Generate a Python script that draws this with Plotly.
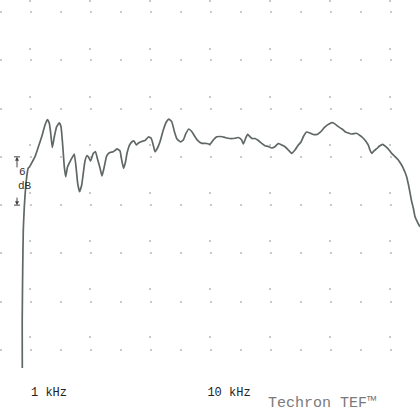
import plotly.graph_objects as go

# Measured magnitude response (linear frequency axis, kHz) and level in dB
freq_khz = [
    0.615, 0.61, 0.635, 0.665, 0.715, 0.835, 0.915, 0.975, 1.085, 1.25,
    1.415, 1.585, 1.75, 1.865, 1.965, 2.035, 2.115, 2.215, 2.335, 2.465,
    2.55, 2.615, 2.665, 2.715, 2.785, 2.875, 3.0, 3.135, 3.215, 3.3,
    3.385, 3.475, 3.585, 3.665, 3.75, 3.85, 3.925, 4.025, 4.165, 4.275,
    4.375, 4.5, 4.6, 4.715, 4.835, 4.965, 5.165, 5.35, 5.5, 5.585,
    5.675, 5.775, 5.85, 5.975, 6.1, 6.2, 6.315, 6.425, 6.585, 6.75,
    6.915, 7.05, 7.15, 7.25, 7.375, 7.5, 7.665, 7.815, 7.935, 8.085,
    8.225, 8.35, 8.525, 8.665, 8.785, 8.935, 9.085, 9.25, 9.415, 9.6,
    9.835, 10.0, 10.165, 10.335, 10.5, 10.625, 10.75, 11.0, 11.25, 11.425,
    11.585, 11.665, 11.785, 11.885, 12.0, 12.1, 12.25, 12.415, 12.585, 12.75,
    12.915, 13.085, 13.25, 13.415, 13.585, 13.75, 13.915, 14.085, 14.25, 14.415,
    14.55, 14.665, 14.825, 15.0, 15.165, 15.35, 15.5, 15.75, 15.95, 16.15,
    16.415, 16.6, 16.75, 17.085, 17.325, 17.5, 17.665, 17.8, 17.915, 18.0,
    18.085, 18.2, 18.335, 18.475, 18.635, 18.775, 18.915, 19.085, 19.25, 19.415,
    19.55, 19.665, 19.765, 19.835, 19.915, 19.985, 20.085, 20.165, 20.25, 20.335,
    20.415, 20.5,
]
level_db = [
    55.76, 61.48, 67.94, 72.91, 75.77, 79.50, 80.62, 80.74, 81.24, 82.02,
    83.22, 84.50, 85.96, 86.64, 86.17, 84.93, 83.16, 84.50, 85.75, 86.24,
    85.75, 84.09, 82.44, 80.78, 79.53, 80.74, 81.40, 82.02, 82.35, 80.78,
    78.71, 77.67, 78.50, 79.99, 81.48, 82.17, 81.98, 81.48, 82.44, 82.64,
    81.73, 80.62, 79.62, 80.78, 82.11, 82.52, 82.64, 82.98, 82.73, 81.61,
    80.58, 81.36, 82.44, 83.47, 83.88, 83.97, 83.47, 83.72, 83.91, 84.03,
    84.47, 84.34, 83.60, 82.64, 83.10, 83.88, 85.34, 86.33, 86.70, 86.37,
    85.09, 84.22, 83.85, 84.09, 84.84, 85.46, 85.15, 84.50, 83.95, 83.68,
    83.66, 83.56, 84.09, 84.50, 84.53, 84.50, 84.40, 84.28, 84.31, 84.40,
    84.09, 83.60, 84.34, 84.80, 84.50, 84.28, 84.28, 84.03, 83.68, 83.39,
    83.29, 83.10, 83.26, 83.66, 83.47, 83.26, 82.85, 82.44, 82.85, 83.47,
    83.85, 84.50, 85.09, 84.96, 84.78, 84.78, 85.03, 85.71, 86.08, 86.24,
    85.75, 85.46, 85.13, 84.84, 84.93, 84.65, 84.31, 83.91, 83.47, 82.85,
    82.44, 82.73, 83.01, 83.35, 83.56, 83.29, 82.98, 82.44, 82.04, 81.61,
    81.11, 80.58, 79.99, 79.50, 78.63, 77.76, 76.43, 75.64, 74.56, 74.09,
    73.66, 73.32,
]

x_ticks = [1, 4, 7, 10, 13, 16, 19]
x_tick_text = ["1 kHz", "", "", "10 kHz", "", "", ""]
db_per_div = 6
db_top_grid = 100
scale_top_db = 82
brand_text = "Techron TEF™"

fig = go.Figure(
    go.Scatter(
        x=freq_khz,
        y=level_db,
        mode="lines",
        line=dict(color="#5f6865", width=1.7, shape="spline", smoothing=0.4),
        hoverinfo="skip",
    )
)

grid_color = "#cacaca"
mono = "Liberation Mono"

fig.update_layout(
    width=420,
    height=413,
    margin=dict(l=0, r=0, t=0, b=35),
    paper_bgcolor="white",
    plot_bgcolor="white",
    showlegend=False,
    xaxis=dict(
        range=[-0.5, 20.5],
        tickvals=x_ticks,
        ticktext=x_tick_text,
        showgrid=True,
        gridcolor=grid_color,
        gridwidth=1.5,
        griddash="2px,46px",
        zeroline=False,
        showline=False,
        ticks="",
        ticklabelshift=19,
        ticklabelstandoff=5,
        tickfont=dict(family=mono, size=12, color="#222222"),
        fixedrange=True,
    ),
    yaxis=dict(
        range=[54.52, 101.49],
        tick0=db_top_grid,
        dtick=db_per_div,
        showticklabels=False,
        showgrid=True,
        gridcolor=grid_color,
        gridwidth=1.5,
        griddash="2px,28px",
        zeroline=False,
        showline=False,
        ticks="",
        fixedrange=True,
    ),
)

# 6 dB scale marker at the left edge
mx = 17 / 420
half = 3 / 420
scale_bottom_db = scale_top_db - db_per_div
for yb in (scale_top_db, scale_bottom_db):
    fig.add_shape(type="line", xref="paper", yref="y", x0=mx - half, x1=mx + half,
                  y0=yb, y1=yb, line=dict(color="#444444", width=1))
fig.add_annotation(xref="paper", yref="y", x=mx, y=scale_top_db, text="",
                   showarrow=True, arrowhead=2, arrowsize=0.8, arrowwidth=1,
                   arrowcolor="#444444", ax=0, ay=12)
fig.add_annotation(xref="paper", yref="y", x=mx, y=scale_bottom_db, text="",
                   showarrow=True, arrowhead=2, arrowsize=0.8, arrowwidth=1,
                   arrowcolor="#444444", ax=0, ay=-9)
fig.add_annotation(xref="paper", yref="y", x=mx, y=scale_top_db - db_per_div * 0.32,
                   text=str(db_per_div), showarrow=False,
                   font=dict(family=mono, size=11, color="#333333"))
fig.add_annotation(xref="paper", yref="y", x=mx - 1 / 420, y=scale_top_db - db_per_div * 0.6,
                   text="dB", showarrow=False,
                   font=dict(family=mono, size=11, color="#333333"))

fig.add_annotation(xref="paper", yref="paper", x=0.767, y=-0.068,
                   xanchor="center", yanchor="middle", text=brand_text,
                   showarrow=False, font=dict(family=mono, size=15, color="#7a7a7a"))

fig.write_html("out.html")
